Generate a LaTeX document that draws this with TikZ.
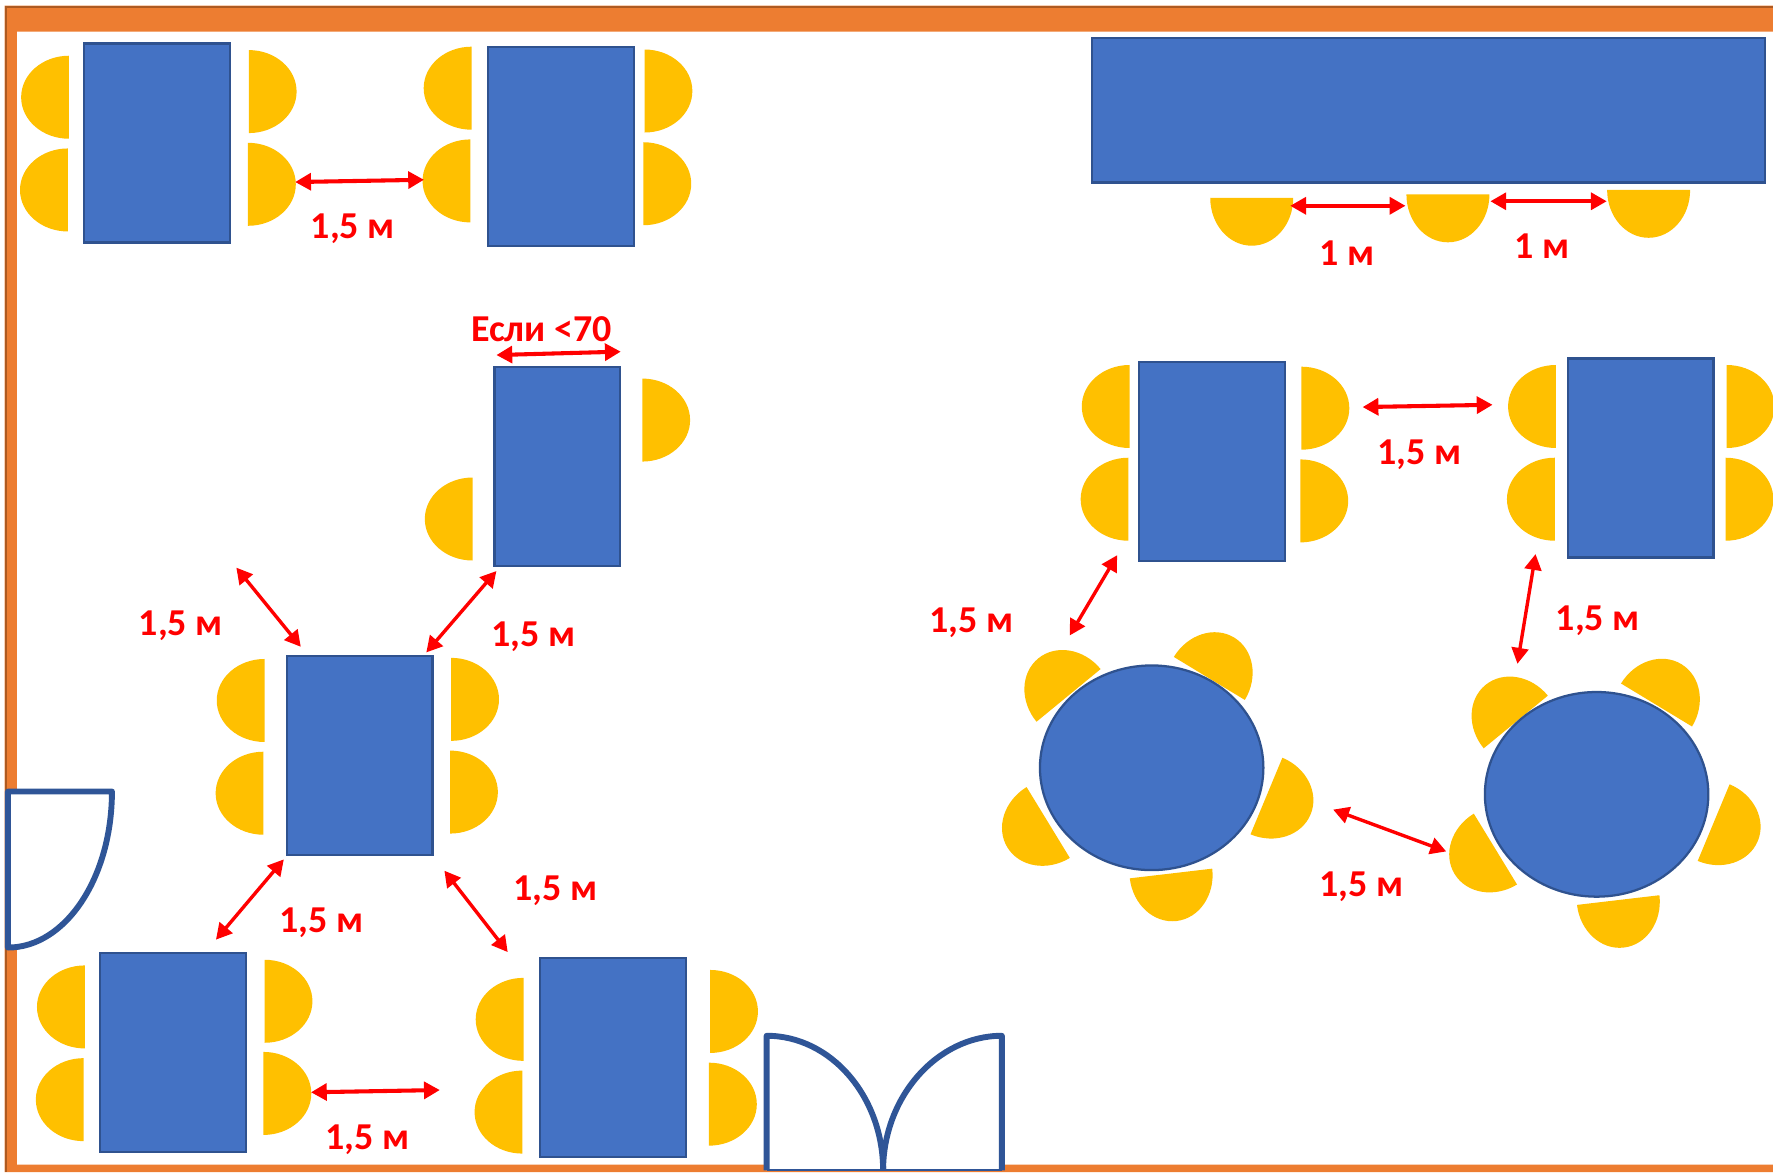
\documentclass[tikz,border=0pt]{standalone}
\usepackage{fontspec}
\setmainfont{Carlito}
\usetikzlibrary{arrows.meta,shapes.geometric}
\definecolor{tablefill}{HTML}{4472C4}
\definecolor{tableedge}{HTML}{2F528F}
\definecolor{chairfill}{HTML}{FFC000}
\definecolor{wallfill}{HTML}{ED7D31}
\definecolor{walledge}{HTML}{AE5A21}
\definecolor{dooredge}{HTML}{2F5597}
\definecolor{markred}{HTML}{FF0000}
\tikzset{
  tablebox/.style={draw=tableedge,fill=tablefill,line width=1pt,rectangle,inner sep=0pt,outer sep=0pt},
  stdtable/.style={tablebox,minimum width=64.4pt,minimum height=88pt},
  roundtable/.style={draw=tableedge,fill=tablefill,line width=1pt,ellipse,inner sep=0pt,outer sep=0pt,minimum width=98.8pt,minimum height=90.5pt},
  gauge/.style={draw=markred,line width=1.8pt,{Triangle[length=7pt,width=7.4pt]}-{Triangle[length=7pt,width=7.4pt]},shorten <=0pt,shorten >=0pt},
  gaugethin/.style={gauge,line width=1.5pt},
  dist/.style={text=markred,font=\fontsize{16.8}{17}\selectfont\bfseries,inner sep=0pt,yshift=-0.9pt},
  doorleaf/.style={draw=dooredge,line width=2.6pt,line join=round},
  doorsill/.style={draw=dooredge,line width=0.9pt}
}
\newcommand{\chair}[3]{\fill[chairfill,shift={(#1,#2)},rotate=#3]
  (0,-36.7) .. controls (23.4,-36.7) and (42.3,-20.3) .. (42.3,0)
  .. controls (42.3,20.3) and (23.4,36.7) .. (0,36.7) -- cycle;}
\newcommand{\gaugeline}[6]{\coordinate (#1a) at (#3,#4); \coordinate (#1b) at (#5,#6); \draw[#2] (#1a) -- (#1b);}
\begin{document}
\begin{tikzpicture}[x=0.5pt,y=-0.5pt]
\useasboundingbox (0,0) rectangle (1568,1036.5);
\fill[white] (0,0) rectangle (1568,1036.5);
% walls
\fill[wallfill] (4,5) -- (1568,5) -- (1568,28) -- (15,28) -- (15,1030) -- (1568,1030) -- (1568,1036.5) -- (4,1036.5) -- cycle;
\fill[walledge] (4,5) rectangle (1568,7);
\fill[walledge] (4,5) rectangle (6,1036.5);
% chairs
\chair{61}{86}{180}\chair{60}{168}{180}\chair{220}{81}{0}\chair{219.3}{163}{0}
\chair{417}{78}{180}\chair{416}{160}{180}\chair{570}{80.5}{0}\chair{569}{162.5}{0}
\chair{1107}{175}{-90}\chair{1280.5}{172}{-90}\chair{1458}{168}{-90}
\chair{418}{459}{180}\chair{568}{371.5}{0}
\chair{234}{619.5}{180}\chair{233}{701.5}{180}\chair{399}{618.5}{0}\chair{398}{700.5}{0}
\chair{75}{890.5}{180}\chair{74}{972.5}{180}\chair{234}{885.5}{0}\chair{233}{967}{0}
\chair{463}{901.5}{180}\chair{462}{983.5}{180}\chair{628}{894.5}{0}\chair{627}{976.5}{0}
\chair{999}{359.5}{180}\chair{998}{441.5}{180}\chair{1151}{361}{0}\chair{1150}{443}{0}
\chair{1376}{359.5}{180}\chair{1375}{441.5}{180}\chair{1527}{359.5}{0}\chair{1526}{441.5}{0}
\foreach \dx/\dy in {0/0,395.5/23.5}{
  \begin{scope}[shift={(\dx,\dy)}]
  \chair{945}{615}{129.4}\chair{1069.5}{600}{58.8}\chair{1120}{704}{-22.6}
  \chair{1035.6}{772.5}{-83.3}\chair{927}{727.4}{211.4}
  \end{scope}
}
% tables
\node[stdtable] (t1) at (139,126.5) {};
\node[stdtable] (t2) at (496,129.5) {};
\node[tablebox,minimum width=297.6pt,minimum height=64pt] (t3) at (1263,97.5) {};
\node[tablebox,minimum width=55.6pt,minimum height=88pt] (t4) at (493,412.5) {};
\node[stdtable] (t5) at (318,668) {};
\node[stdtable] (t6) at (153,931) {};
\node[stdtable] (t7) at (542,935.5) {};
\node[stdtable] (t8) at (1072,408) {};
\node[stdtable] (t9) at (1451,405) {};
\node[roundtable] (r1) at (1018.5,679) {};
\node[roundtable] (r2) at (1412,702.5) {};
% doors
\coordinate (dl1) at (7,700); \coordinate (dl2) at (99,700); \coordinate (dl3) at (7,838);
\fill[white] (dl3) -- (dl1) -- (dl2) .. controls (99,776) and (58,838) .. (dl3) -- cycle;
\draw[doorleaf] (dl3) -- (dl1) -- (dl2) .. controls (99,776) and (58,838) .. (dl3) -- cycle;
\coordinate (dm) at (781,1035); \coordinate (db1) at (678,1035); \coordinate (db2) at (678,916);
\coordinate (dc1) at (886,1035); \coordinate (dc2) at (886,916);
\fill[white] (dm) -- (db1) -- (db2) .. controls (735,916) and (781,970) .. (dm) -- cycle;
\fill[white] (dm) -- (dc1) -- (dc2) .. controls (829,916) and (781,970) .. (dm) -- cycle;
\draw[doorsill] (db1) -- (dc1);
\draw[doorleaf] (db1) -- (db2) .. controls (735,916) and (781,970) .. (dm);
\draw[doorleaf] (dc1) -- (dc2) .. controls (829,916) and (781,970) .. (dm);
% distance arrows
\gaugeline{g1}{gauge}{261}{161}{375}{159}
\gaugeline{g2}{gauge}{1141}{182}{1243}{182}
\gaugeline{g3}{gauge}{1318}{178}{1421}{178}
\gaugeline{g4}{gauge}{439}{314}{549}{311}
\gaugeline{g5}{gaugethin}{209}{502}{266}{572}
\gaugeline{g6}{gaugethin}{377}{577}{439}{505}
\gaugeline{g7}{gaugethin}{191}{831}{251}{760}
\gaugeline{g8}{gaugethin}{393}{770}{449}{842}
\gaugeline{g9}{gauge}{275}{966}{389}{964}
\gaugeline{g10}{gauge}{1205}{360}{1320}{358}
\gaugeline{g11}{gaugethin}{946}{562}{988}{491}
\gaugeline{g12}{gaugethin}{1358}{490}{1342}{587}
\gaugeline{g13}{gaugethin}{1179}{716}{1279}{753}
% labels
\node[dist] (l1) at (312,200.5) {1,5 м};
\node[dist] (l2) at (1191,222.5) {1 м};
\node[dist] (l3) at (1364,215.5) {1 м};
\node[dist] (l4) at (479,289.5) {Если <70};
\node[dist] (l5) at (160,552) {1,5 м};
\node[dist] (l6) at (472,561.5) {1,5 м};
\node[dist] (l7) at (284,814.5) {1,5 м};
\node[dist] (l8) at (491,785.5) {1,5 м};
\node[dist] (l9) at (325,1006.5) {1,5 м};
\node[dist] (l10) at (1255,400.5) {1,5 м};
\node[dist] (l11) at (859,548.5) {1,5 м};
\node[dist] (l12) at (1413,547.5) {1,5 м};
\node[dist] (l13) at (1204,782.5) {1,5 м};
\end{tikzpicture}
\end{document}
